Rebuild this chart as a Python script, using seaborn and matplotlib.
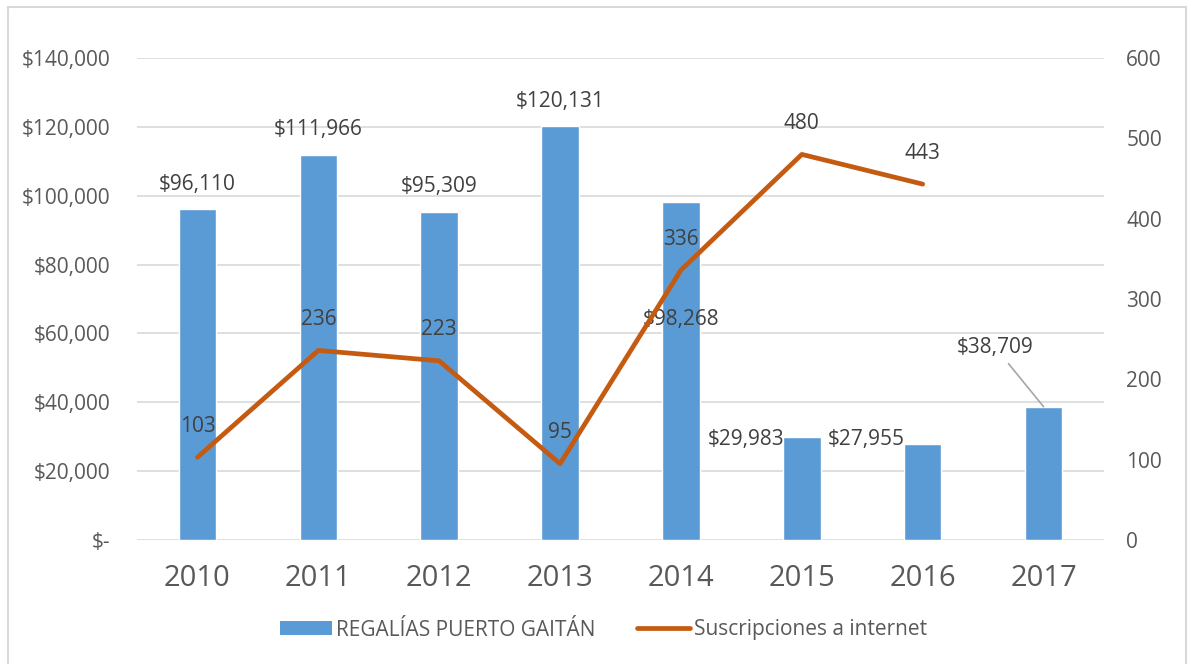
import numpy as np
import matplotlib
matplotlib.use("Agg")
import matplotlib.pyplot as plt
import seaborn as sns
from matplotlib.patches import Rectangle, Patch
from matplotlib.lines import Line2D
from matplotlib.ticker import FuncFormatter

# =========================
# Data
# =========================
years = ["2010", "2011", "2012", "2013", "2014", "2015", "2016", "2017"]
regalias = [96110, 111966, 95309, 120131, 98268, 29983, 27955, 38709]
suscripciones = [103, 236, 223, 95, 336, 480, 443, None]

bar_label = "REGALÍAS PUERTO GAITÁN"
line_label = "Suscripciones a internet"

# label offsets (pixels) from the top of each bar
bar_offsets = [(0, 25), (0, 25), (0, 25), (0, 25), (0, -118), (-56, -3), (-56, 4), (-48, 59)]

BLUE = "#5B9BD5"
ORANGE = "#C55A11"
GRID = "#D9D9D9"
TICK = "#595959"
LABEL = "#404040"
FS = 15

sns.set_theme(style="white")
plt.rcParams["font.family"] = ["Open Sans", "DejaVu Sans"]

fig = plt.figure(figsize=(11.88, 6.64), dpi=100)
ax = fig.add_axes([137 / 1188, 1 - 540 / 664, (1104 - 137) / 1188, (540 - 58) / 664])

# =========================
# Bars (left axis)
# =========================
x = np.arange(len(years))
sns.barplot(x=x, y=regalias, color=BLUE, width=0.31, saturation=1, ax=ax, zorder=2)
ax.set_xlim(-0.5, len(years) - 0.5)
ax.set_ylim(0, 140000)
ax.set_yticks(np.arange(0, 140001, 20000))
ax.yaxis.set_major_formatter(FuncFormatter(lambda v, p: "$-" if v == 0 else f"${v:,.0f}"))
ax.set_xticks(x)
ax.set_xticklabels(years)
ax.grid(axis="y", color=GRID, lw=1.2, zorder=0)
ax.set_axisbelow(True)
ax.tick_params(axis="y", length=0, pad=19, labelsize=FS, labelcolor=TICK)
ax.tick_params(axis="x", length=0, pad=17, labelsize=21, labelcolor=TICK)
sns.despine(ax=ax, left=True, bottom=True)
ax.set_xlabel("")
ax.set_ylabel("")

for i, v in enumerate(regalias):
    dx, dy = bar_offsets[i]
    kw = {}
    if i == len(regalias) - 1:
        kw["arrowprops"] = dict(arrowstyle="-", color="#A6A6A6", lw=1.2, shrinkA=2, shrinkB=0)
    ax.annotate(f"${v:,.0f}", xy=(i, v), xytext=(dx, dy), textcoords="offset pixels",
                ha="center", va="center", fontsize=FS, color=LABEL, **kw)

# =========================
# Line (right axis)
# =========================
ax2 = ax.twinx()
lx = [i for i, s in enumerate(suscripciones) if s is not None]
ly = [s for s in suscripciones if s is not None]
sns.lineplot(x=lx, y=ly, color=ORANGE, lw=3.4, ax=ax2, zorder=3)
ax2.set_ylim(0, 600)
ax2.set_yticks(np.arange(0, 601, 100))
ax2.tick_params(axis="y", length=0, pad=16, labelsize=FS, labelcolor=TICK)
ax2.grid(False)
ax2.set_ylabel("")
for s in ax2.spines.values():
    s.set_visible(False)

for i, s in zip(lx, ly):
    ax2.annotate(f"{s}", xy=(i, s), xytext=(0, 31), textcoords="offset pixels",
                 ha="center", va="center", fontsize=FS, color=LABEL)

# =========================
# Legend + border
# =========================
handles = [Patch(facecolor=BLUE, edgecolor="none"),
           Line2D([0], [0], color=ORANGE, lw=3.4, solid_capstyle="round")]
fig.legend(handles, [bar_label, line_label], loc="center", bbox_to_anchor=(0.508, 1 - 630 / 664),
           ncol=2, frameon=False, fontsize=FS, labelcolor=TICK, handlelength=2.5,
           handleheight=0.65, handletextpad=0.2, columnspacing=2.0)

fig.patches.append(Rectangle((8 / 1188, -0.01), 1178 / 1188, 1.01 - 7 / 664, transform=fig.transFigure,
                             fill=False, edgecolor=GRID, lw=1.5))

fig.savefig("out.png", dpi=100)
